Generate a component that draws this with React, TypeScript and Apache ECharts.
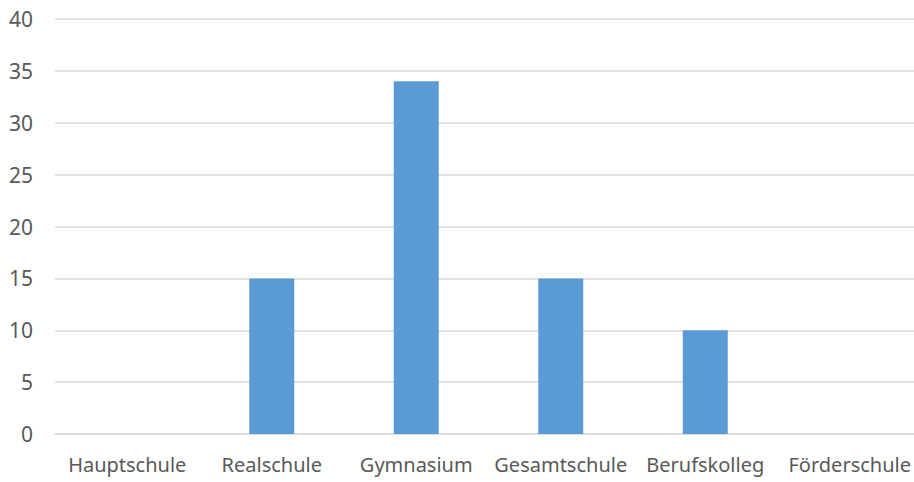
import React, { useEffect, useRef } from "react";
import * as echarts from "echarts";

const categories = ["Hauptschule", "Realschule", "Gymnasium", "Gesamtschule", "Berufskolleg", "Förderschule"];
const values = [0, 15, 34, 15, 10, 0];
const yTicks = { min: 0, max: 40, interval: 5 };

export default function App() {
  const ref = useRef<HTMLDivElement>(null);
  useEffect(() => {
    if (!ref.current) return;
    const chart = echarts.init(ref.current, null, { renderer: "svg" });
    chart.setOption({
      animation: false,
      backgroundColor: "#ffffff",
      grid: { left: 55, right: 0, top: 19, bottom: 48, containLabel: false },
      xAxis: {
        type: "category",
        data: categories,
        axisLine: { show: true, lineStyle: { color: "#d9d9d9", width: 1.5 } },
        axisTick: { show: false },
        axisLabel: { color: "#595959", fontSize: 20, fontFamily: "Noto Sans", margin: 20, interval: 0 },
      },
      yAxis: {
        type: "value",
        min: yTicks.min,
        max: yTicks.max,
        interval: yTicks.interval,
        axisLine: { show: false },
        axisTick: { show: false },
        splitLine: { lineStyle: { color: "#d9d9d9", width: 1.5 } },
        axisLabel: { color: "#595959", fontSize: 21, fontFamily: "Noto Sans", margin: 22 },
      },
      series: [
        {
          type: "bar",
          data: values,
          barWidth: 45,
          itemStyle: { color: "#5b9bd5" },
        },
      ],
    });
    return () => chart.dispose();
  }, []);
  return (
    <div style={{ position: "fixed", left: 0, top: 0, width: 914, height: 482, overflow: "hidden", background: "#fff" }}>
      <div ref={ref} style={{ width: 922, height: 482 }} />
    </div>
  );
}
